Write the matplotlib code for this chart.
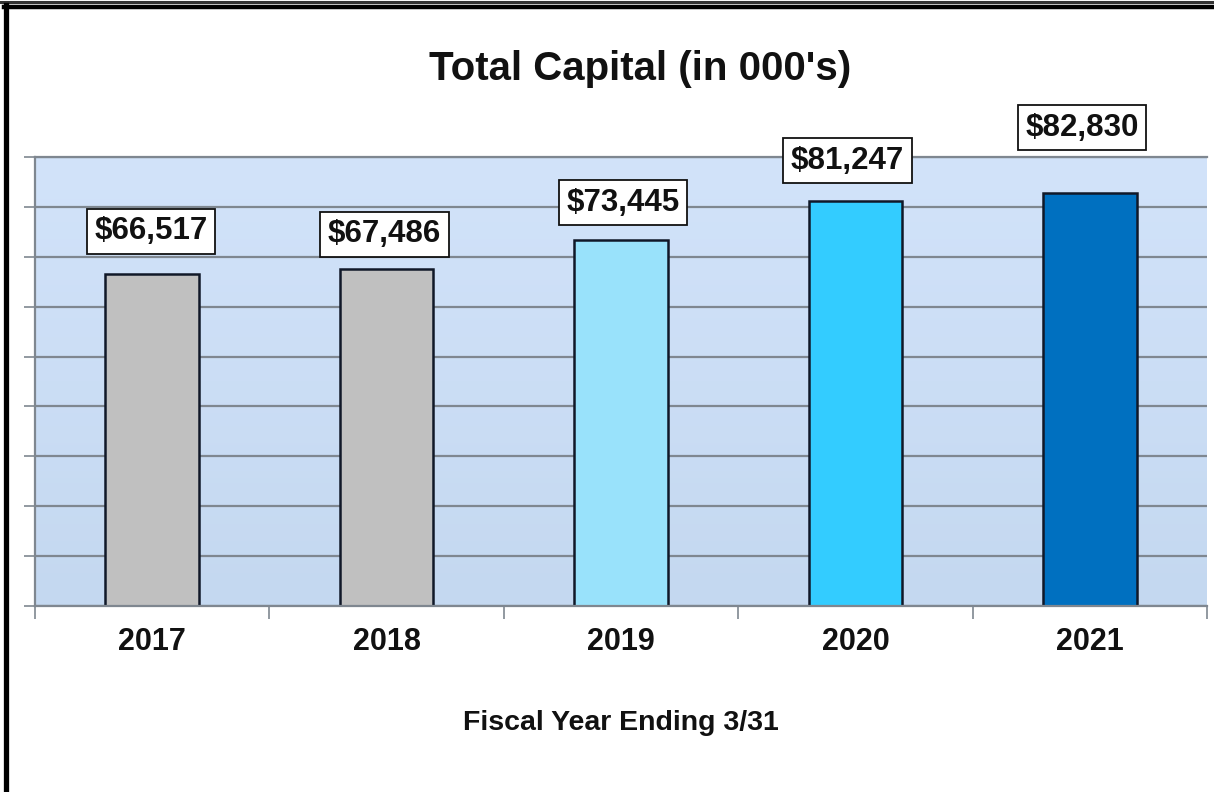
import numpy as np
import matplotlib.pyplot as plt
from matplotlib.lines import Line2D

plt.rcParams['font.family'] = ['Liberation Sans', 'DejaVu Sans']

# Total capital by fiscal year (in 000's)
years = ['2017', '2018', '2019', '2020', '2021']
capital = [66517, 67486, 73445, 81247, 82830]
bar_colors = ['#c0c0c0', '#c0c0c0', '#99e2fb', '#33ccff', '#0070c0']

# where each value box sits relative to its bar top (pixels)
label_dx = [-1, -2, 2, -8, -8]
label_dy = [43, 35, 37, 40, 65]

W, H = 1214, 792
fig = plt.figure(figsize=(W / 100, H / 100), dpi=100)
ax = fig.add_axes([35 / W, 1 - 606 / H, (1207 - 35) / W, (606 - 157) / H])

x = np.arange(len(years))
ax.set_xlim(-0.5, len(years) - 0.5)
ax.set_ylim(0, 90000)

# soft vertical gradient in the plot area
grad = np.linspace(0, 1, 256).reshape(-1, 1)
top_c = np.array([210, 227, 250]) / 255
bot_c = np.array([196, 216, 240]) / 255
img = top_c * (1 - grad[..., None]) + bot_c * grad[..., None]
img = img.reshape(256, 1, 3)
ax.imshow(img, extent=[-0.5, len(years) - 0.5, 0, 90000], aspect='auto',
          origin='upper', zorder=0)

ax.set_yticks(np.arange(0, 90001, 10000))
ax.yaxis.grid(True, color='#7f8790', linewidth=1.6, zorder=1)
ax.set_axisbelow(True)
ax.set_yticklabels([])
ax.tick_params(axis='y', direction='out', length=8, color='#7f8790', width=1.2)

ax.bar(x, capital, width=0.4, color=bar_colors, edgecolor='#101828',
       linewidth=1.8, zorder=2)

for xi, v, dx, dy in zip(x, capital, label_dx, label_dy):
    ax.annotate(f'${v:,}', (xi, v), xytext=(dx, dy), textcoords='offset pixels',
                ha='center', va='center', fontsize=22.5, fontweight='bold',
                color='#111111', zorder=4,
                bbox=dict(boxstyle='square,pad=0.24', facecolor='white',
                          edgecolor='#111111', linewidth=1.3))

ax.set_xticks(x)
ax.set_xticklabels(years, fontsize=22, fontweight='bold', color='#111111')
ax.set_xticks(np.arange(-0.5, len(years), 1), minor=True)
ax.tick_params(axis='x', which='major', length=0, pad=15)
ax.tick_params(axis='x', which='minor', direction='out', length=9,
               color='#7f8790', width=1.2)

for side in ['left', 'bottom', 'top']:
    ax.spines[side].set_color('#7f8790')
    ax.spines[side].set_linewidth(1.6)
ax.spines['right'].set_visible(False)

ax.set_xlabel('Fiscal Year Ending 3/31', fontsize=20.5, fontweight='bold',
              color='#111111', labelpad=38)

fig.text(640 / W, 1 - 69 / H, "Total Capital (in 000's)", ha='center',
         va='center', fontsize=29, fontweight='bold', color='#111111')

# frame lines along the top and left edges
fig.add_artist(Line2D([0, 1], [1 - 1.5 / H, 1 - 1.5 / H], color='#333333',
                      linewidth=2.2, transform=fig.transFigure))
fig.add_artist(Line2D([4 / W, 1], [1 - 7 / H, 1 - 7 / H], color='black',
                      linewidth=3.2, transform=fig.transFigure))
fig.add_artist(Line2D([5.5 / W, 5.5 / W], [0, 1 - 5 / H], color='black',
                      linewidth=3.8, transform=fig.transFigure))

fig.savefig('out.png', dpi=100, facecolor='white')
